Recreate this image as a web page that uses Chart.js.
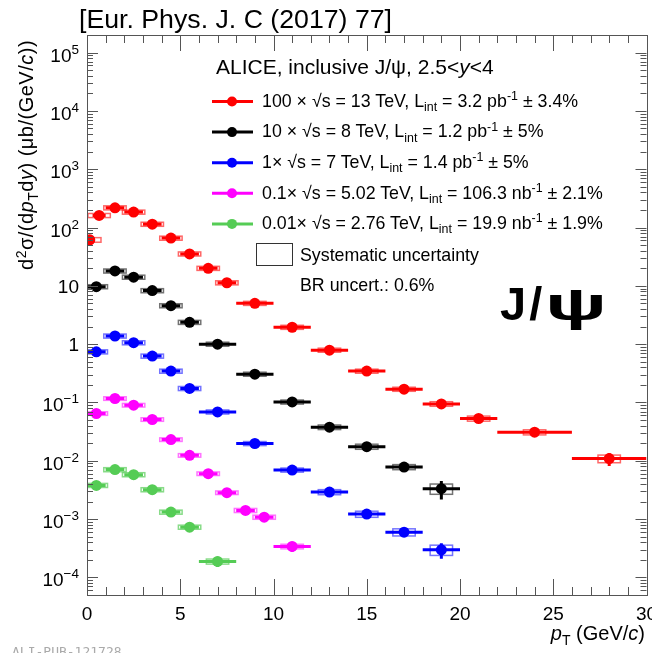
<!DOCTYPE html>
<html>
<head>
<meta charset="utf-8">
<script src="https://cdn.jsdelivr.net/npm/chart.js@4"></script>
<style>
  body { margin: 0; background: #fff; }
  #wrap { position: relative; width: 652px; height: 653px; overflow: hidden; font-family: "Liberation Sans", Arial, sans-serif; color: #000; }
  #chart { position: absolute; left: 0; top: 0; }
  .txt { position: absolute; white-space: nowrap; line-height: 1; }
  .sub { font-size: 70%; position: relative; top: 0.38em; }
  .sup { font-size: 70%; position: relative; top: -0.5em; }
  .psi { display: inline-block; transform-origin: 0 0; transform: scaleX(1.75); }
</style>
</head>
<body>
<div id="wrap">
  <canvas id="chart" width="652" height="653"></canvas>

  <div class="txt" style="left:79px; top:6px; font-size:26.7px;">[Eur. Phys. J. C (2017) 77]</div>

  <div class="txt" style="left:216px; top:55.5px; font-size:21px;">ALICE, inclusive J/ψ, 2.5&lt;<i>y</i>&lt;4</div>
  <div class="txt" style="left:262px; top:92.5px; font-size:17.8px;">100 × √s = 13 TeV, L<span class="sub">int</span> = 3.2 pb<span class="sup">-1</span> ± 3.4%</div>
  <div class="txt" style="left:262px; top:123px; font-size:17.8px;">10 × √s = 8 TeV, L<span class="sub">int</span> = 1.2 pb<span class="sup">-1</span> ± 5%</div>
  <div class="txt" style="left:262px; top:153.5px; font-size:17.8px;">1× √s = 7 TeV, L<span class="sub">int</span> = 1.4 pb<span class="sup">-1</span> ± 5%</div>
  <div class="txt" style="left:262px; top:184.5px; font-size:17.8px;">0.1× √s = 5.02 TeV, L<span class="sub">int</span> = 106.3 nb<span class="sup">-1</span> ± 2.1%</div>
  <div class="txt" style="left:262px; top:214.5px; font-size:17.8px;">0.01× √s = 2.76 TeV, L<span class="sub">int</span> = 19.9 nb<span class="sup">-1</span> ± 1.9%</div>
  <div class="txt" style="left:300px; top:246.5px; font-size:17.8px;">Systematic uncertainty</div>
  <div class="txt" style="left:300px; top:277px; font-size:17.8px;">BR uncert.: 0.6%</div>

  <div class="txt" style="left:500px; top:280px; font-size:47px; font-weight:bold; letter-spacing:3px;">J/<span class="psi">ψ</span></div>

  <div class="txt" style="right:7px; top:623px; font-size:20px;"><i>p</i><span class="sub">T</span> (GeV/<i>c</i>)</div>
  <div class="txt" style="left:16px; top:270px; font-size:20px; letter-spacing:0.5px; transform-origin:0 0; transform:rotate(-90deg);">d<span class="sup">2</span>σ/(d<i>p</i><span class="sub">T</span>d<i>y</i>) (μb/(GeV/<i>c</i>))</div>

  <div class="txt" style="left:12px; top:645px; font-size:13px; color:#aaa; font-family:'DejaVu Sans Mono', monospace;">ALI-PUB-121728</div>
</div>

<script>
// ===================================
// Data
// ===================================
// 13 TeV (x100)
const ptRed = [0.15, 0.65, 1.5, 2.5, 3.5, 4.5, 5.5, 6.5, 7.5, 9, 11, 13, 15, 17, 19, 21, 24, 28];
const binRed = [0.15, 0.35, 0.5, 0.5, 0.5, 0.5, 0.5, 0.5, 0.5, 1, 1, 1, 1, 1, 1, 1, 2, 2];
const valRed = [61.5, 161, 218, 184, 114, 65.8, 35.3, 20.0, 11.3, 5.02, 1.95, 0.79, 0.345, 0.169, 0.0946, 0.0531, 0.0309, 0.0109];
const statRed = [0.03, 0.02, 0.02, 0.02, 0.02, 0.02, 0.02, 0.03, 0.03, 0.03, 0.04, 0.05, 0.06, 0.08, 0.1, 0.12, 0.12, 0.25];
const sysRed = [0.09, 0.08, 0.08, 0.08, 0.08, 0.08, 0.08, 0.08, 0.08, 0.08, 0.08, 0.08, 0.08, 0.08, 0.09, 0.1, 0.1, 0.15];

// 8 TeV (x10)
const ptBlack = [0.5, 1.5, 2.5, 3.5, 4.5, 5.5, 7, 9, 11, 13, 15, 17, 19];
const binBlack = [0.5, 0.5, 0.5, 0.5, 0.5, 0.5, 1, 1, 1, 1, 1, 1, 1];
const valBlack = [9.68, 18.0, 14.1, 8.28, 4.57, 2.37, 1.0, 0.306, 0.102, 0.0377, 0.0175, 0.00782, 0.00333];
const statBlack = [0.04, 0.03, 0.03, 0.03, 0.04, 0.05, 0.05, 0.06, 0.08, 0.1, 0.12, 0.12, 0.35];
const sysBlack = [0.08, 0.08, 0.08, 0.08, 0.08, 0.08, 0.08, 0.08, 0.08, 0.09, 0.1, 0.1, 0.2];

// 7 TeV (x1)
const ptBlue = [0.5, 1.5, 2.5, 3.5, 4.5, 5.5, 7, 9, 11, 13, 15, 17, 19];
const binBlue = [0.5, 0.5, 0.5, 0.5, 0.5, 0.5, 1, 1, 1, 1, 1, 1, 1];
const valBlue = [0.740, 1.38, 1.06, 0.625, 0.345, 0.174, 0.0689, 0.0198, 0.00695, 0.00291, 0.00122, 0.000598, 0.000298];
const statBlue = [0.04, 0.03, 0.03, 0.03, 0.04, 0.05, 0.05, 0.06, 0.08, 0.1, 0.12, 0.12, 0.3];
const sysBlue = [0.08, 0.08, 0.08, 0.08, 0.08, 0.08, 0.08, 0.08, 0.08, 0.1, 0.12, 0.14, 0.2];

// 5.02 TeV (x0.1)
const ptMagenta = [0.5, 1.5, 2.5, 3.5, 4.5, 5.5, 6.5, 7.5, 8.5, 9.5, 11];
const binMagenta = [0.5, 0.5, 0.5, 0.5, 0.5, 0.5, 0.5, 0.5, 0.5, 0.5, 1];
const valMagenta = [0.0647, 0.117, 0.0899, 0.0511, 0.0231, 0.0124, 0.00602, 0.00284, 0.00141, 0.00108, 0.00034];
const statMagenta = [0.03, 0.02, 0.02, 0.03, 0.03, 0.04, 0.05, 0.06, 0.08, 0.09, 0.2];
const sysMagenta = [0.07, 0.07, 0.07, 0.07, 0.07, 0.07, 0.07, 0.07, 0.08, 0.08, 0.09];

// 2.76 TeV (x0.01)
const ptGreen = [0.5, 1.5, 2.5, 3.5, 4.5, 5.5, 7];
const binGreen = [0.5, 0.5, 0.5, 0.5, 0.5, 0.5, 1];
const valGreen = [0.00379, 0.00706, 0.00579, 0.00320, 0.00132, 0.000729, 0.000188];
const statGreen = [0.06, 0.05, 0.05, 0.06, 0.08, 0.1, 0.2];
const sysGreen = [0.08, 0.08, 0.08, 0.08, 0.08, 0.08, 0.1];

const xTicks = [0, 5, 10, 15, 20, 25, 30];
const yDecades = [-4, -3, -2, -1, 0, 1, 2, 3, 4, 5];

// ===================================
// Style
// ===================================
const X_MIN = 0, X_MAX = 30;
const Y_MIN = 5e-5, Y_MAX = 2e5;
const BOX_HALF = 0.6;
const FONT = '"Liberation Sans", Arial, sans-serif';

const series = [
  { pt: ptRed, bin: binRed, val: valRed, stat: statRed, sys: sysRed, color: "#ff0000", box: "rgba(255,0,0,0.6)" },
  { pt: ptBlack, bin: binBlack, val: valBlack, stat: statBlack, sys: sysBlack, color: "#000000", box: "rgba(0,0,0,0.55)" },
  { pt: ptBlue, bin: binBlue, val: valBlue, stat: statBlue, sys: sysBlue, color: "#0000ff", box: "rgba(0,0,255,0.55)" },
  { pt: ptMagenta, bin: binMagenta, val: valMagenta, stat: statMagenta, sys: sysMagenta, color: "#ff00ff", box: "rgba(255,0,255,0.55)" },
  { pt: ptGreen, bin: binGreen, val: valGreen, stat: statGreen, sys: sysGreen, color: "#55cc55", box: "rgba(85,204,85,0.7)" },
];

// ===================================
// Plugins
// ===================================
// Systematic boxes and statistical bars, drawn under the markers
const errorBars = {
  id: "errorBars",
  beforeDatasetsDraw(chart) {
    const { ctx, chartArea: a, scales: { x, y } } = chart;
    ctx.save();
    ctx.beginPath();
    ctx.rect(a.left, a.top, a.width, a.height);
    ctx.clip();
    chart.data.datasets.forEach((ds) => {
      ds.data.forEach((p, i) => {
        const px = x.getPixelForValue(p.x);
        const py = y.getPixelForValue(p.y);

        // systematic box
        const s = ds.sysErr[i];
        const bx0 = x.getPixelForValue(p.x - BOX_HALF);
        const bx1 = x.getPixelForValue(p.x + BOX_HALF);
        const by0 = y.getPixelForValue(p.y * (1 + s));
        const by1 = y.getPixelForValue(p.y * (1 - s));
        ctx.strokeStyle = ds.boxColor;
        ctx.lineWidth = 1.5;
        ctx.strokeRect(bx0, by0, bx1 - bx0, by1 - by0);

        // statistical bars
        const e = ds.statErr[i];
        ctx.strokeStyle = ds.borderColor;
        ctx.lineWidth = 3;
        ctx.beginPath();
        ctx.moveTo(x.getPixelForValue(p.x - ds.binHalf[i]), py);
        ctx.lineTo(x.getPixelForValue(p.x + ds.binHalf[i]), py);
        ctx.moveTo(px, y.getPixelForValue(p.y * (1 + e)));
        ctx.lineTo(px, y.getPixelForValue(p.y * (1 - e)));
        ctx.stroke();
      });
    });
    ctx.restore();
  },
};

// ROOT-like frame, inward ticks and tick labels
const frame = {
  id: "frame",
  afterDraw(chart) {
    const { ctx, chartArea: a, scales: { x, y } } = chart;
    ctx.save();
    ctx.strokeStyle = "#555";
    ctx.lineWidth = 1;
    ctx.strokeRect(Math.round(a.left) + 0.5, Math.round(a.top) + 0.5, Math.round(a.width), Math.round(a.height));

    ctx.beginPath();
    for (let v = X_MIN; v <= X_MAX; v++) {
      const len = v % 5 === 0 ? 16 : 8;
      const px = Math.round(x.getPixelForValue(v)) + 0.5;
      ctx.moveTo(px, a.bottom);
      ctx.lineTo(px, a.bottom - len);
      ctx.moveTo(px, a.top);
      ctx.lineTo(px, a.top + len);
    }
    for (let d = -5; d <= 5; d++) {
      for (let k = 1; k <= 9; k++) {
        const v = k * Math.pow(10, d);
        if (v < Y_MIN || v > Y_MAX) continue;
        const len = k === 1 ? 11 : 6;
        const py = Math.round(y.getPixelForValue(v)) + 0.5;
        ctx.moveTo(a.left, py);
        ctx.lineTo(a.left + len, py);
        ctx.moveTo(a.right, py);
        ctx.lineTo(a.right - len, py);
      }
    }
    ctx.stroke();

    // x tick labels
    ctx.fillStyle = "#000";
    ctx.font = "19px " + FONT;
    ctx.textAlign = "center";
    ctx.textBaseline = "alphabetic";
    xTicks.forEach((v) => {
      ctx.fillText(String(v), x.getPixelForValue(v), 620);
    });

    // y tick labels: 1, 10, 10^n
    const right = a.left - 8;
    yDecades.forEach((d) => {
      const py = y.getPixelForValue(Math.pow(10, d));
      ctx.textAlign = "right";
      if (d === 0 || d === 1) {
        ctx.font = "19px " + FONT;
        ctx.fillText(d === 0 ? "1" : "10", right, py + 7);
        return;
      }
      const exp = d < 0 ? "\u2212" + Math.abs(d) : String(d);
      ctx.font = "13.5px " + FONT;
      const ew = ctx.measureText(exp).width;
      ctx.fillText(exp, right, py + 1);
      ctx.font = "19px " + FONT;
      ctx.fillText("10", right - ew, py + 9);
    });
    ctx.restore();
  },
};

// Legend graphics (text is HTML)
const legendMarks = {
  id: "legendMarks",
  afterDraw(chart) {
    const { ctx } = chart;
    ctx.save();
    series.forEach((s, i) => {
      const cy = 101.5 + i * 30.6;
      ctx.strokeStyle = s.color;
      ctx.lineWidth = 3;
      ctx.beginPath();
      ctx.moveTo(212, cy);
      ctx.lineTo(253, cy);
      ctx.stroke();
      ctx.fillStyle = s.color;
      ctx.beginPath();
      ctx.arc(232, cy, 5, 0, Math.PI * 2);
      ctx.fill();
    });
    ctx.strokeStyle = "#333";
    ctx.lineWidth = 1;
    ctx.strokeRect(256.5, 243.5, 36, 22);
    ctx.restore();
  },
};

// ===================================
// Chart
// ===================================
const datasets = series.map((s) => ({
  data: s.pt.map((p, i) => ({ x: p, y: s.val[i] })),
  binHalf: s.bin,
  statErr: s.stat,
  sysErr: s.sys,
  boxColor: s.box,
  backgroundColor: s.color,
  borderColor: s.color,
  pointRadius: 5.5,
  pointBorderWidth: 0,
  showLine: false,
}));

new Chart(document.getElementById("chart").getContext("2d"), {
  type: "scatter",
  data: { datasets },
  plugins: [errorBars, frame, legendMarks],
  options: {
    responsive: false,
    animation: false,
    events: [],
    layout: { padding: { top: 35, right: 5.5, left: 0, bottom: 0 } },
    plugins: { legend: { display: false }, tooltip: { enabled: false } },
    scales: {
      x: {
        type: "linear",
        min: X_MIN,
        max: X_MAX,
        ticks: { display: false },
        grid: { display: false },
        border: { display: false },
        afterFit(s) {
          s.height = 58;
          s.paddingLeft = 0;
          s.paddingRight = 0;
        },
      },
      y: {
        type: "logarithmic",
        min: Y_MIN,
        max: Y_MAX,
        ticks: { display: false },
        grid: { display: false },
        border: { display: false },
        afterFit(s) {
          s.width = 87;
          s.paddingTop = 0;
          s.paddingBottom = 0;
        },
      },
    },
  },
});
</script>
</body>
</html>
